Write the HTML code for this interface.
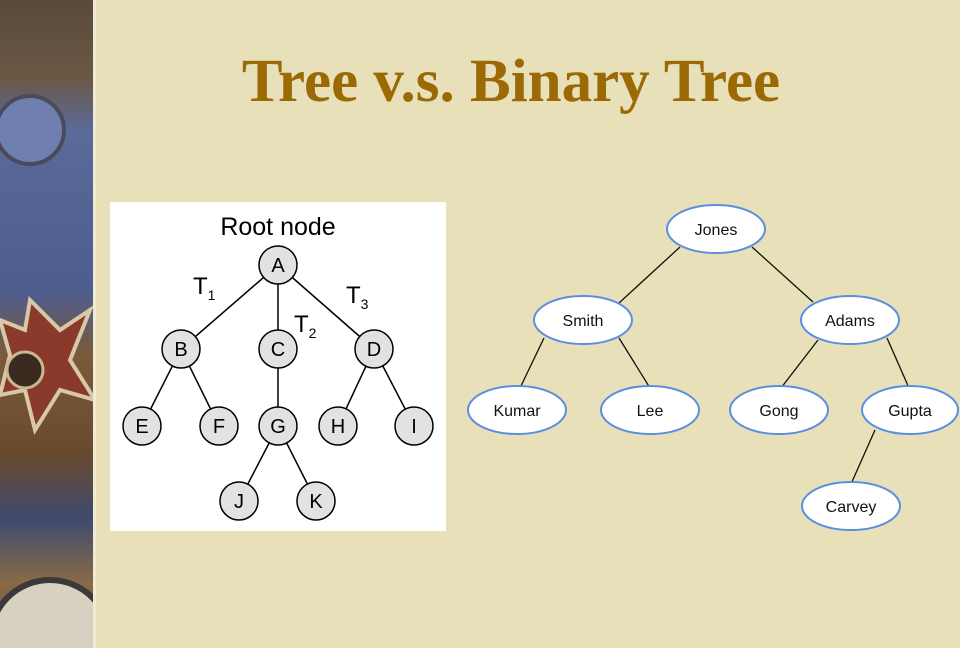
<!DOCTYPE html>
<html><head><meta charset="utf-8"><style>
html,body{margin:0;padding:0;width:960px;height:648px;overflow:hidden;background:#e7e0b8}
svg{display:block;position:absolute;left:0;top:0;overflow:hidden}
</style></head><body>
<svg width="960" height="648" viewBox="0 0 960 648" xmlns="http://www.w3.org/2000/svg">
<defs>
<linearGradient id="strip" x1="0" y1="0" x2="0" y2="1">
<stop offset="0" stop-color="#5a4a3a"/><stop offset="0.12" stop-color="#6a5844"/>
<stop offset="0.2" stop-color="#5c6a9a"/><stop offset="0.45" stop-color="#4e5c8e"/>
<stop offset="0.55" stop-color="#7a5a3a"/><stop offset="0.7" stop-color="#6a4a2e"/>
<stop offset="0.8" stop-color="#3e4a6e"/><stop offset="0.9" stop-color="#8a6a48"/>
<stop offset="1" stop-color="#5a4a3a"/></linearGradient>
<clipPath id="sc"><rect x="0" y="0" width="94" height="648"/></clipPath>
</defs>
<g clip-path="url(#sc)">
<rect x="0" y="0" width="95" height="648" fill="url(#strip)"/>
<circle cx="30" cy="130" r="34" fill="#6e7eae" stroke="#4a4a5a" stroke-width="4"/>
<polygon points="30,300 60,330 90,310 70,360 95,400 60,390 35,430 25,390 0,395 10,355 0,320 25,330" fill="#8a3a2a" stroke="#d8c8a8" stroke-width="4"/>
<circle cx="25" cy="370" r="18" fill="#3a2a20" stroke="#c8b890" stroke-width="3"/>
<circle cx="50" cy="640" r="60" fill="#d8d0c0" stroke="#3a3a3a" stroke-width="6"/>
</g>
<rect x="93" y="0" width="3" height="648" fill="#f0ead0"/>

<text x="511" y="101" text-anchor="middle" font-family="Liberation Serif, serif" font-weight="bold" font-size="61" fill="#9b6a05">Tree v.s. Binary Tree</text>

<rect x="110" y="202" width="336" height="329" fill="#ffffff"/>
<g stroke="#000" stroke-width="1.5">
<line x1="278" y1="265" x2="181" y2="349"/><line x1="278" y1="265" x2="278" y2="349"/><line x1="278" y1="265" x2="374" y2="349"/>
<line x1="181" y1="349" x2="142" y2="426"/><line x1="181" y1="349" x2="219" y2="426"/>
<line x1="278" y1="349" x2="278" y2="426"/>
<line x1="374" y1="349" x2="338" y2="426"/><line x1="374" y1="349" x2="414" y2="426"/>
<line x1="278" y1="426" x2="239" y2="501"/><line x1="278" y1="426" x2="316" y2="501"/>
</g>
<g fill="#e2e2e2" stroke="#000" stroke-width="1.5">
<circle cx="278" cy="265" r="19"/><circle cx="181" cy="349" r="19"/><circle cx="278" cy="349" r="19"/><circle cx="374" cy="349" r="19"/>
<circle cx="142" cy="426" r="19"/><circle cx="219" cy="426" r="19"/><circle cx="278" cy="426" r="19"/><circle cx="338" cy="426" r="19"/><circle cx="414" cy="426" r="19"/>
<circle cx="239" cy="501" r="19"/><circle cx="316" cy="501" r="19"/>
</g>
<g font-family="Liberation Sans, sans-serif" font-size="20" text-anchor="middle" fill="#000">
<text x="278" y="272">A</text><text x="181" y="356">B</text><text x="278" y="356">C</text><text x="374" y="356">D</text>
<text x="142" y="433">E</text><text x="219" y="433">F</text><text x="278" y="433">G</text><text x="338" y="433">H</text><text x="414" y="433">I</text>
<text x="239" y="508">J</text><text x="316" y="508">K</text>
<text x="278" y="235" font-size="25">Root node</text>
</g>
<g font-family="Liberation Sans, sans-serif" font-size="24" fill="#000">
<text x="193" y="294">T<tspan font-size="14" dy="6">1</tspan></text>
<text x="294" y="332">T<tspan font-size="14" dy="6">2</tspan></text>
<text x="346" y="303">T<tspan font-size="14" dy="6">3</tspan></text>
</g>

<g stroke="#111" stroke-width="1.3">
<line x1="680" y1="247" x2="619" y2="303"/><line x1="752" y1="247" x2="813" y2="302"/>
<line x1="544" y1="338" x2="520" y2="388"/><line x1="619" y1="338" x2="650" y2="388"/>
<line x1="818" y1="340" x2="781" y2="388"/><line x1="887" y1="338" x2="909" y2="388"/>
<line x1="875" y1="430" x2="851" y2="484"/>
</g>
<g fill="#fff" stroke="#5a8ee0" stroke-width="2">
<ellipse cx="716" cy="229" rx="49" ry="24"/><ellipse cx="583" cy="320" rx="49" ry="24"/><ellipse cx="850" cy="320" rx="49" ry="24"/>
<ellipse cx="517" cy="410" rx="49" ry="24"/><ellipse cx="650" cy="410" rx="49" ry="24"/><ellipse cx="779" cy="410" rx="49" ry="24"/><ellipse cx="910" cy="410" rx="48" ry="24"/>
<ellipse cx="851" cy="506" rx="49" ry="24"/>
</g>
<g font-family="Liberation Sans, sans-serif" font-size="16" text-anchor="middle" fill="#111">
<text x="716" y="235">Jones</text><text x="583" y="326">Smith</text><text x="850" y="326">Adams</text>
<text x="517" y="416">Kumar</text><text x="650" y="416">Lee</text><text x="779" y="416">Gong</text><text x="910" y="416">Gupta</text>
<text x="851" y="512">Carvey</text>
</g>
</svg>
</body></html>
